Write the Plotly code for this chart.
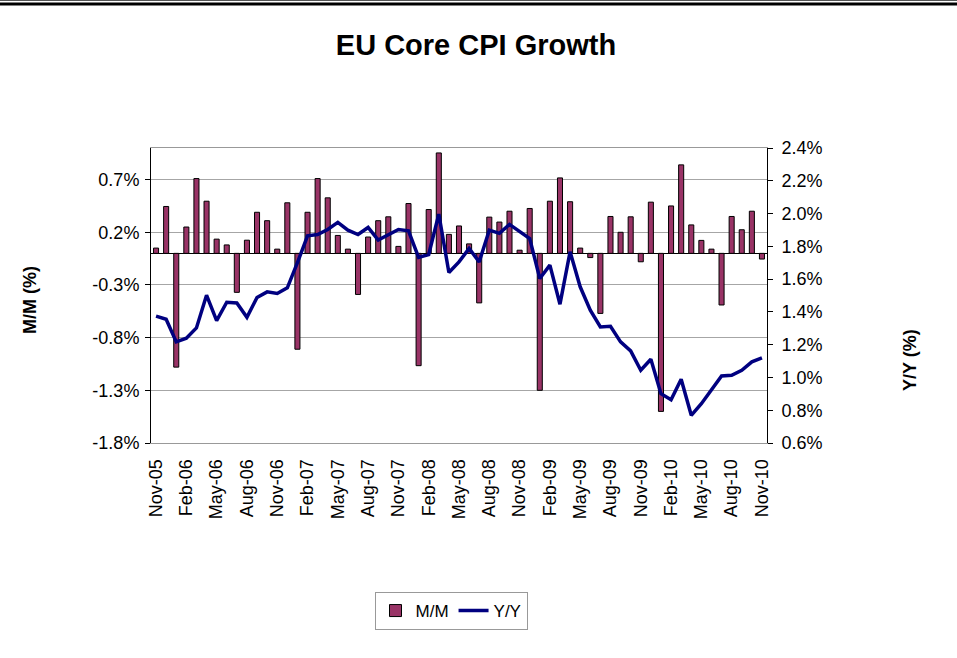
import pandas as pd
import plotly.graph_objects as go

# Categories: monthly, Nov-05 .. Nov-10
months = [d.strftime("%b-%y") for d in pd.date_range("2005-11-01", "2010-11-01", freq="MS")]

# M/M core CPI change (%)
mm = [0.05, 0.445, -1.08, 0.25, 0.71, 0.495, 0.135, 0.08, -0.37, 0.125,
      0.39, 0.31, 0.04, 0.48, -0.91, 0.39, 0.71, 0.527, 0.17, 0.04,
      -0.39, 0.155, 0.31, 0.347, 0.066, 0.473, -1.066, 0.416, 0.953, 0.18,
      0.26, 0.09, -0.47, 0.344, 0.297, 0.40, 0.03, 0.426, -1.30, 0.495,
      0.716, 0.49, 0.05, -0.04, -0.57, 0.35, 0.20, 0.347, -0.08, 0.486,
      -1.50, 0.45, 0.84, 0.27, 0.123, 0.04, -0.49, 0.35, 0.224, 0.40,
      -0.054]

# Y/Y core CPI growth (%)
yy = [1.374, 1.355, 1.217, 1.239, 1.302, 1.502, 1.347, 1.459, 1.455, 1.367,
      1.488, 1.522, 1.512, 1.547, 1.70, 1.864, 1.872, 1.903, 1.946, 1.899,
      1.872, 1.915, 1.838, 1.872, 1.903, 1.895, 1.732, 1.750, 1.997, 1.640,
      1.705, 1.787, 1.705, 1.899, 1.879, 1.934, 1.889, 1.848, 1.604, 1.685,
      1.447, 1.767, 1.553, 1.410, 1.308, 1.312, 1.217, 1.162, 1.044, 1.111,
      0.901, 0.864, 0.989, 0.769, 0.840, 0.925, 1.009, 1.013, 1.044, 1.095,
      1.119]

left_ticks = [-1.8, -1.3, -0.8, -0.3, 0.2, 0.7]
right_ticks = [0.6, 0.8, 1.0, 1.2, 1.4, 1.6, 1.8, 2.0, 2.2, 2.4]
label_step = 3

idx = list(range(len(months)))
FONT = "Liberation Sans, Arial, sans-serif"

fig = go.Figure()
fig.add_trace(go.Bar(
    x=idx, y=mm, name="M/M", width=0.5,
    marker=dict(color="#993366", line=dict(color="#000000", width=1)),
    yaxis="y",
))
fig.add_trace(go.Scatter(
    x=idx, y=yy, name="Y/Y", mode="lines",
    line=dict(color="#000080", width=3.5),
    yaxis="y2",
))

W, H = 957, 658
ml, mr, mt, mb = 151, 190, 148, 215
pw, ph = W - ml - mr, H - mt - mb

def px_x(x):
    return (x - ml) / pw

def px_y(y):
    return (H - mb - y) / ph

fig.update_layout(
    width=W, height=H,
    margin=dict(l=ml, r=mr, t=mt, b=mb, pad=0),
    paper_bgcolor="white", plot_bgcolor="white",
    font=dict(family=FONT, size=17, color="black"),
    title=dict(text="<b>EU Core CPI Growth</b>", x=476 / W, xref="container",
               xanchor="center", y=1 - 45 / H, yref="container", yanchor="middle",
               font=dict(size=29, family=FONT, color="black")),
    bargap=0.5,
    showlegend=True,
    legend=dict(orientation="h", x=px_x(451), xanchor="center", y=px_y(592), yanchor="top",
                bordercolor="#999999", borderwidth=1, bgcolor="white",
                font=dict(size=17, family=FONT), itemwidth=30, traceorder="normal"),
    xaxis=dict(
        range=[-0.5, len(months) - 0.5],
        tickmode="array", tickvals=idx[::label_step], ticktext=months[::label_step],
        tickangle=-90, ticks="", showgrid=False, zeroline=False,
        showline=True, linecolor="#999999", linewidth=1, mirror=True,
        tickfont=dict(size=18, family=FONT), ticklabelstandoff=8,
    ),
    yaxis=dict(
        range=[-1.8, 1.0], tickmode="array", tickvals=left_ticks,
        ticktext=[f"{v:.1f}%" for v in left_ticks],
        ticks="outside", ticklen=5, tickcolor="black",
        showgrid=True, gridcolor="#a6a6a6", gridwidth=1,
        zeroline=True, zerolinecolor="black", zerolinewidth=1,
        showline=True, linecolor="black", linewidth=1,
        tickfont=dict(size=18, family=FONT), ticklabelstandoff=2,
    ),
    yaxis2=dict(
        range=[0.6, 2.4], overlaying="y", side="right", tickmode="array",
        tickvals=right_ticks, ticktext=[f"{v:.1f}%" for v in right_ticks],
        ticks="outside", ticklen=5, tickcolor="black",
        showgrid=False, zeroline=False,
        showline=True, linecolor="black", linewidth=1,
        tickfont=dict(size=18, family=FONT), ticklabelstandoff=5,
    ),
    annotations=[
        dict(text="<b>M/M (%)</b>", x=px_x(30), y=px_y(300), xref="paper", yref="paper",
             showarrow=False, textangle=-90, font=dict(size=18, family=FONT),
             xanchor="center", yanchor="middle"),
        dict(text="<b>Y/Y (%)</b>", x=px_x(910), y=px_y(360), xref="paper", yref="paper",
             showarrow=False, textangle=-90, font=dict(size=18, family=FONT),
             xanchor="center", yanchor="middle"),
    ],
    shapes=[
        dict(type="line", xref="paper", yref="paper", x0=px_x(0), x1=px_x(W),
             y0=px_y(4), y1=px_y(4), line=dict(color="black", width=3)),
        dict(type="line", xref="paper", yref="paper", x0=px_x(0), x1=px_x(W),
             y0=px_y(0.5), y1=px_y(0.5), line=dict(color="#555555", width=1)),
    ],
)

fig.write_html("out.html", config={"displayModeBar": False},
               post_script="document.body.style.margin='0px';document.body.style.padding='0px';")
